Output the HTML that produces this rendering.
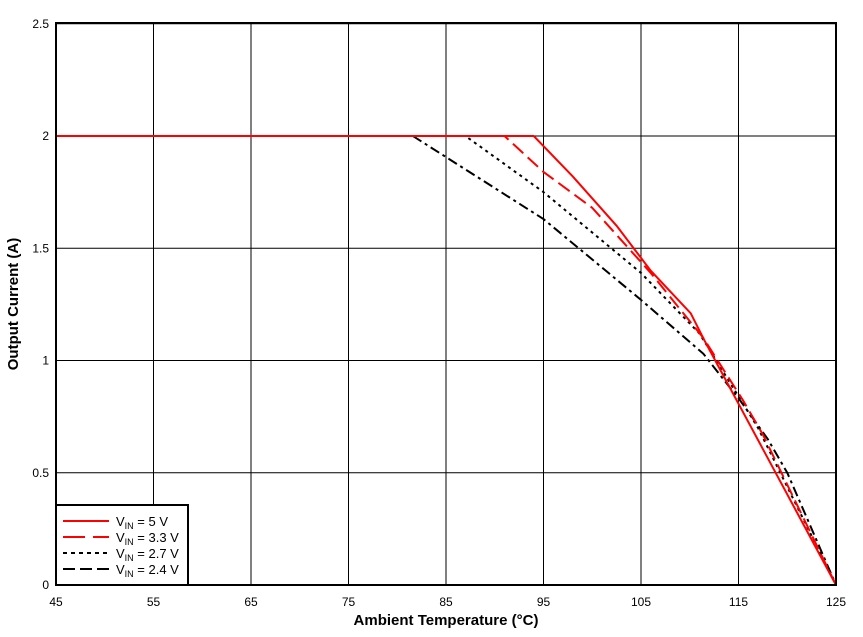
<!DOCTYPE html>
<html><head><meta charset="utf-8"><style>
body{margin:0;background:#fff;}
svg{display:block;font-family:"Liberation Sans",Arial,sans-serif;}
</style></head><body>
<svg id="chart" width="863" height="637">
<g id="grid"></g>
<g id="series"></g>
<g id="ticks"></g>
<rect x="56" y="23" width="780" height="562" fill="none" stroke="#000" stroke-width="2"/>
<text x="446" y="625" text-anchor="middle" font-size="15" font-weight="bold">Ambient Temperature (°C)</text>
<text transform="translate(18,304) rotate(-90)" text-anchor="middle" font-size="15" font-weight="bold">Output Current (A)</text>
<g id="legend">
<rect x="56" y="505" width="132" height="80" fill="#fff" stroke="#000" stroke-width="2"/>
</g>
</svg>
<script>
const xTicks=[45,55,65,75,85,95,105,115,125];
const yTicks=[0,0.5,1,1.5,2,2.5];
const yTickLabels=["0","0.5","1","1.5","2","2.5"];
const seriesNames=["VIN = 5 V","VIN = 3.3 V","VIN = 2.7 V","VIN = 2.4 V"];
const s5T=[45,94,98,102.5,106,110.1,111.5,125];
const s5I=[2,2,1.82,1.6,1.4,1.21,1.09,0];
const s33T=[45,91,95,100,106,111.4,115.5,117.5,125];
const s33I=[2,2,1.84,1.68,1.39,1.1,0.82,0.67,0];
const s27T=[45,87,95,105,111,117,125];
const s27I=[2,2,1.75,1.39,1.12,0.7,0];
const s24T=[45,81.6,95,105,111.4,115.2,118,120,125];
const s24I=[2,2,1.63,1.27,1.03,0.82,0.65,0.5,0];
const X=t=>56+(t-45)*9.75;
const Y=v=>585-v*224.5;
const NS="http://www.w3.org/2000/svg";
function mk(tag,attrs,parent){const e=document.createElementNS(NS,tag);for(const k in attrs)e.setAttribute(k,attrs[k]);parent.appendChild(e);return e;}
const grid=document.getElementById('grid'),ticks=document.getElementById('ticks');
xTicks.forEach(t=>{
 const l=mk('line',{x1:X(t),x2:X(t),y1:23,y2:585,stroke:'#000','stroke-width':1},grid);
 
 
 const tx=mk('text',{x:X(t),y:606,'text-anchor':'middle','font-size':12},ticks);
 tx.textContent=t;
 
 
});
yTicks.forEach((v,i)=>{
 const l=mk('line',{x1:56,x2:836,y1:Y(v),y2:Y(v),stroke:'#000','stroke-width':1},grid);
 
 
 const tx=mk('text',{x:49,y:Y(v)+4,'text-anchor':'end','font-size':12},ticks);
 tx.textContent=yTickLabels[i];
 
 
});
const styles=[{c:'#f00',d:''},{c:'#f00',d:'14 6'},{c:'#000',d:'3 4'},{c:'#000',d:'10 4 3 4'}];
const data=[[s5T,s5I],[s33T,s33I],[s27T,s27I],[s24T,s24I]];
const sg=document.getElementById('series');
const order=[3,2,1,0];
order.forEach(k=>{
 const [T,I]=data[k];
 const pts=T.map((t,j)=>X(t)+','+Y(I[j])).join(' ');
 const p=mk('polyline',{points:pts,fill:'none',stroke:styles[k].c,'stroke-width':2,'stroke-dasharray':styles[k].d},sg);
 
 
});
const lg=document.getElementById('legend');
const sub=["5 V","3.3 V","2.7 V","2.4 V"];
const legDash=['','22 8','4 4','12 5'];
seriesNames.forEach((n,k)=>{
 const y=521+k*16;
 const l=mk('line',{x1:63,x2:109,y1:y,y2:y,stroke:styles[k].c,'stroke-width':2,'stroke-dasharray':legDash[k]},lg);
 
 
 const t=mk('text',{x:116,y:y+5,'font-size':13},lg);
 t.innerHTML='V<tspan font-size="9" dy="3">IN</tspan><tspan dy="-3"> = '+sub[k]+'</tspan>';
 
 
});
</script>
</body></html>
